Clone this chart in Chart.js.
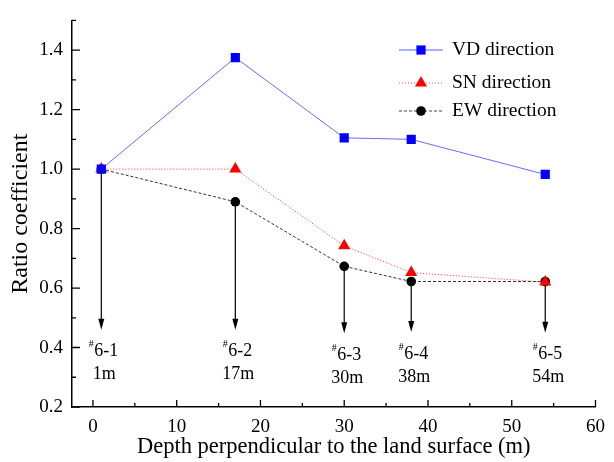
<!doctype html>
<html lang="en">
<head>
<meta charset="utf-8">
<title>Ratio coefficient</title>
<script src="https://cdn.jsdelivr.net/npm/chart.js@4.4.1/dist/chart.umd.min.js"></script>
<style>
  html, body { margin: 0; padding: 0; background: #fff; }
  #wrap { width: 614px; height: 462px; }
</style>
</head>
<body>
<div id="wrap"><canvas id="ratioChart"></canvas></div>
<script>
// data
const depths = [1, 17, 30, 38, 54];
const vdValues = [1.0, 1.375, 1.105, 1.10, 0.982];
const snValues = [1.0, 1.0, 0.742, 0.652, 0.62];
const ewValues = [1.0, 0.89, 0.673, 0.622, 0.622];
const seriesNames = ['VD direction', 'SN direction', 'EW direction'];
const stationNames = ['6-1', '6-2', '6-3', '6-4', '6-5'];
const depthNames = ['1m', '17m', '30m', '38m', '54m'];
const arrowEnds = [0.46, 0.46, 0.448, 0.452, 0.45];
const xMajorTicks = [0, 10, 20, 30, 40, 50, 60];
const xMinorTicks = [5, 15, 25, 35, 45, 55];
const yMajorTicks = [0.2, 0.4, 0.6, 0.8, 1.0, 1.2, 1.4];
const yMinorTicks = [0.3, 0.5, 0.7, 0.9, 1.1, 1.3, 1.5];

const serif = "'Liberation Serif', 'Times New Roman', serif";

function points(vals) {
  return depths.map(function (d, i) { return { x: d, y: vals[i] }; });
}

// inward ticks, arrows with station labels, legend
const extras = {
  id: 'extras',
  beforeDatasetsDraw(chart) {
    const ctx = chart.ctx;
    const xs = chart.scales.x, ys = chart.scales.y;
    ctx.save();
    ctx.strokeStyle = '#000';
    ctx.fillStyle = '#000';
    ctx.lineWidth = 1.2;
    depths.forEach(function (d, i) {
      const px = xs.getPixelForValue(d);
      const top = ys.getPixelForValue(Math.min(vdValues[i], snValues[i], ewValues[i]));
      const tip = ys.getPixelForValue(arrowEnds[i]);
      ctx.beginPath();
      ctx.moveTo(px, top);
      ctx.lineTo(px, tip - 8);
      ctx.stroke();
      ctx.beginPath();
      ctx.moveTo(px - 3, tip - 11);
      ctx.lineTo(px + 3, tip - 11);
      ctx.lineTo(px, tip);
      ctx.closePath();
      ctx.fill();

      ctx.textAlign = 'center';
      ctx.textBaseline = 'middle';
      ctx.font = '18px ' + serif;
      ctx.fillText(stationNames[i], px + 5, tip + 22);
      const w = ctx.measureText(stationNames[i]).width;
      ctx.font = '10px ' + serif;
      ctx.fillText('#', px + 5 - w / 2 - 3, tip + 15);
      ctx.font = '18px ' + serif;
      ctx.fillText(depthNames[i], px + 3, tip + 45);
    });
    ctx.restore();
  },
  afterDraw(chart) {
    const ctx = chart.ctx;
    const xs = chart.scales.x, ys = chart.scales.y;
    const area = chart.chartArea;
    ctx.save();
    ctx.strokeStyle = '#000';
    ctx.lineWidth = 1.3;
    ctx.beginPath();
    yMajorTicks.forEach(function (v) {
      const py = ys.getPixelForValue(v);
      ctx.moveTo(area.left, py); ctx.lineTo(area.left + 8, py);
    });
    yMinorTicks.forEach(function (v) {
      const py = ys.getPixelForValue(v);
      ctx.moveTo(area.left, py); ctx.lineTo(area.left + 4, py);
    });
    xMajorTicks.forEach(function (v) {
      const px = xs.getPixelForValue(v);
      ctx.moveTo(px, area.bottom); ctx.lineTo(px, area.bottom - 7);
    });
    xMinorTicks.forEach(function (v) {
      const px = xs.getPixelForValue(v);
      ctx.moveTo(px, area.bottom); ctx.lineTo(px, area.bottom - 4);
    });
    ctx.stroke();

    // legend
    const legendLines = ['#aab0ff', '#ff5050', '#444444'];
    const rows = [50, 83, 111];
    chart.data.datasets.forEach(function (ds, i) {
      const y = rows[i];
      ctx.strokeStyle = legendLines[i];
      ctx.lineWidth = i === 0 ? 2 : 1;
      ctx.setLineDash(ds.borderDash || []);
      ctx.beginPath();
      ctx.moveTo(399, y); ctx.lineTo(443, y);
      ctx.stroke();
      ctx.setLineDash([]);
      ctx.fillStyle = ds.pointBackgroundColor;
      ctx.beginPath();
      if (ds.pointStyle === 'rect') {
        const s = ds.pointRadius * Math.SQRT1_2;
        ctx.rect(421 - s, y - s, 2 * s, 2 * s);
      } else if (ds.pointStyle === 'triangle') {
        const r = ds.pointRadius;
        ctx.moveTo(421, y - r);
        ctx.lineTo(421 + r * 0.866, y + r * 0.5);
        ctx.lineTo(421 - r * 0.866, y + r * 0.5);
        ctx.closePath();
      } else {
        ctx.arc(421, y, ds.pointRadius, 0, Math.PI * 2);
      }
      ctx.fill();
      ctx.fillStyle = '#000';
      ctx.font = '19.5px ' + serif;
      ctx.textAlign = 'left';
      ctx.textBaseline = 'middle';
      ctx.fillText(seriesNames[i], 452, y);
    });
    ctx.restore();
  }
};

const config = {
  type: 'line',
  data: {
    datasets: [{
      label: seriesNames[0],
      data: points(vdValues),
      borderColor: '#6a6aff',
      borderWidth: 1,
      pointStyle: 'rect',
      pointRadius: 6.5,
      pointBackgroundColor: '#0000ff',
      pointBorderColor: '#0000ff',
      pointBorderWidth: 0
    }, {
      label: seriesNames[1],
      data: points(snValues),
      borderColor: '#ff3030',
      borderWidth: 1,
      borderDash: [1, 2],
      pointStyle: 'triangle',
      pointRadius: 7,
      pointBackgroundColor: '#ff0000',
      pointBorderColor: '#ff0000',
      pointBorderWidth: 0
    }, {
      label: seriesNames[2],
      data: points(ewValues),
      borderColor: '#333333',
      borderWidth: 1,
      borderDash: [3, 2],
      pointStyle: 'circle',
      pointRadius: 4.8,
      pointBackgroundColor: '#000000',
      pointBorderColor: '#000000',
      pointBorderWidth: 0
    }]
  },
  options: {
    responsive: true,
    maintainAspectRatio: false,
    animation: false,
    events: [],
    layout: { padding: { left: 0, right: 16, top: 14, bottom: 0 } },
    plugins: { legend: { display: false }, tooltip: { enabled: false } },
    scales: {
      x: {
        type: 'linear',
        min: -2.5,
        max: 60,
        afterFit(scale) { scale.height = 55; },
        afterBuildTicks(scale) { scale.ticks = xMajorTicks.map(function (v) { return { value: v }; }); },
        grid: { drawOnChartArea: false, drawTicks: false },
        border: { color: '#000', width: 1.5 },
        ticks: { color: '#000', padding: 9, font: { family: serif, size: 19 } },
        title: {
          display: true,
          text: 'Depth perpendicular to the land surface (m)',
          color: '#000',
          padding: { top: 0, bottom: 1 },
          font: { family: serif, size: 22.5 }
        }
      },
      y: {
        type: 'linear',
        min: 0.2,
        max: 1.5,
        afterFit(scale) { scale.width = 72; },
        afterBuildTicks(scale) { scale.ticks = yMajorTicks.map(function (v) { return { value: v }; }); },
        grid: { drawOnChartArea: false, drawTicks: false },
        border: { color: '#000', width: 1.5 },
        ticks: {
          color: '#000', padding: 9, font: { family: serif, size: 19 },
          callback: function (v) { return v.toFixed(1); }
        },
        title: {
          display: true,
          text: 'Ratio coefficient',
          color: '#000',
          padding: { top: 6, bottom: 0 },
          font: { family: serif, size: 24 }
        }
      }
    }
  },
  plugins: [extras]
};

new Chart(document.getElementById('ratioChart'), config);
</script>
</body>
</html>
